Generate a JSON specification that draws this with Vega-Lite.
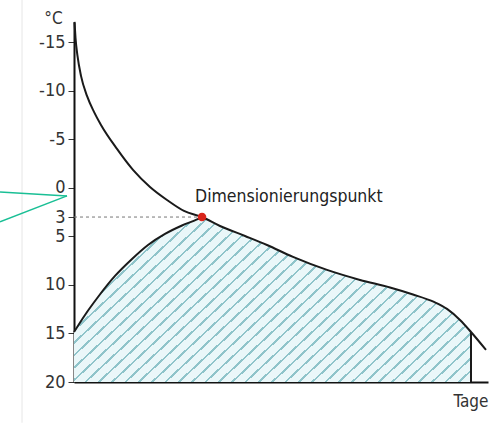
{
  "$schema": "https://vega.github.io/schema/vega-lite/v6.json",
  "width": 414,
  "height": 360,
  "autosize": {"type": "none"},
  "padding": {"left": 74, "top": 22, "right": 16, "bottom": 41},
  "background": "white",
  "config": {
    "view": {"stroke": null},
    "font": "Liberation Sans Narrow, DejaVu Sans Condensed, Roboto, sans-serif"
  },
  "datasets": {
    "area": [
      {"tag": 0, "temp": 14.85}, {"tag": 11, "temp": 13.09}, {"tag": 24, "temp": 11.24}, {"tag": 41, "temp": 9.07},
      {"tag": 58, "temp": 7.32}, {"tag": 74, "temp": 5.88}, {"tag": 91, "temp": 4.74}, {"tag": 108, "temp": 3.87},
      {"tag": 123, "temp": 3.25}, {"tag": 128, "temp": 3.0},
      {"tag": 146, "temp": 3.92}, {"tag": 171, "temp": 4.95}, {"tag": 193, "temp": 5.88}, {"tag": 219, "temp": 7.11},
      {"tag": 253, "temp": 8.45}, {"tag": 286, "temp": 9.48}, {"tag": 316, "temp": 10.26}, {"tag": 339, "temp": 10.98},
      {"tag": 360, "temp": 11.75}, {"tag": 373, "temp": 12.47}, {"tag": 386, "temp": 13.61}, {"tag": 397, "temp": 14.85}
    ],
    "rising": [
      {"tag": 0, "temp": 14.85}, {"tag": 11, "temp": 13.09}, {"tag": 24, "temp": 11.24}, {"tag": 41, "temp": 9.07},
      {"tag": 58, "temp": 7.32}, {"tag": 74, "temp": 5.88}, {"tag": 91, "temp": 4.74}, {"tag": 108, "temp": 3.87},
      {"tag": 123, "temp": 3.25}, {"tag": 128, "temp": 3.0}
    ],
    "falling": [
      {"tag": 0.5, "temp": -17.11}, {"tag": 1.5, "temp": -15.46}, {"tag": 3.5, "temp": -13.61}, {"tag": 7, "temp": -11.55},
      {"tag": 13, "temp": -9.48}, {"tag": 20, "temp": -7.84}, {"tag": 27, "temp": -6.49}, {"tag": 43, "temp": -4.02},
      {"tag": 59, "temp": -1.86}, {"tag": 76, "temp": -0.1}, {"tag": 93, "temp": 1.24}, {"tag": 110, "temp": 2.37},
      {"tag": 128, "temp": 3.0}, {"tag": 146, "temp": 3.92}, {"tag": 171, "temp": 4.95}, {"tag": 193, "temp": 5.88},
      {"tag": 219, "temp": 7.11}, {"tag": 253, "temp": 8.45}, {"tag": 286, "temp": 9.48}, {"tag": 316, "temp": 10.26},
      {"tag": 339, "temp": 10.98}, {"tag": 360, "temp": 11.75}, {"tag": 373, "temp": 12.47}, {"tag": 386, "temp": 13.61},
      {"tag": 397, "temp": 14.85}, {"tag": 412, "temp": 16.7}
    ]
  },
  "layer": [
    {
      "data": {"values": [{"tag": -52, "temp": -19.4, "tag2": -52, "temp2": 24.2}]},
      "mark": {"type": "rule", "color": "#e6e6e6", "strokeWidth": 1},
      "encoding": {
        "x": {"field": "tag", "type": "quantitative", "scale": {"domain": [0, 414], "nice": false, "zero": false},
              "axis": {"title": "Tage", "labels": false, "ticks": false, "grid": false, "domainColor": "#111", "domainWidth": 2,
                       "titleAnchor": "end", "titleAlign": "right", "titleX": 414, "titleY": 24, "titleBaseline": "alphabetic",
                       "titleFontSize": 17, "titleFontWeight": "normal", "titleColor": "#333"}},
        "y": {"field": "temp", "type": "quantitative", "scale": {"domain": [-17.1, 20], "reverse": true, "nice": false, "zero": false},
              "axis": {"title": "°C", "values": [-15, -10, -5, 0, 3, 5, 10, 15, 20], "grid": false, "domainColor": "#111", "domainWidth": 2,
                       "labelExpr": "replace(datum.label, '−', '-')",
                       "tickColor": "#333", "tickSize": 6, "tickWidth": 1, "labelFontSize": 18, "labelColor": "#333", "labelPadding": 3,
                       "titleAngle": 0, "titleX": -21, "titleY": 1, "titleAlign": "center", "titleBaseline": "alphabetic",
                       "titleFontSize": 17, "titleFontWeight": "normal", "titleColor": "#333"}},
        "x2": {"field": "tag2"},
        "y2": {"field": "temp2"}
      }
    },
    {
      "data": {"name": "area"},
      "mark": {"type": "area", "interpolate": "monotone",
        "fill": {"gradient": "linear", "x1": 0, "y1": 0, "x2": 1.402, "y2": 0.624, "stops": [
{"offset":0,"color":"#8fc4ca"},{"offset":0.004,"color":"#8fc4ca"},{"offset":0.004,"color":"#eaf7f9"},{"offset":0.02,"color":"#eaf7f9"},
{"offset":0.02,"color":"#8fc4ca"},{"offset":0.024,"color":"#8fc4ca"},{"offset":0.024,"color":"#eaf7f9"},{"offset":0.04,"color":"#eaf7f9"},
{"offset":0.04,"color":"#8fc4ca"},{"offset":0.044,"color":"#8fc4ca"},{"offset":0.044,"color":"#eaf7f9"},{"offset":0.06,"color":"#eaf7f9"},
{"offset":0.06,"color":"#8fc4ca"},{"offset":0.064,"color":"#8fc4ca"},{"offset":0.064,"color":"#eaf7f9"},{"offset":0.08,"color":"#eaf7f9"},
{"offset":0.08,"color":"#8fc4ca"},{"offset":0.084,"color":"#8fc4ca"},{"offset":0.084,"color":"#eaf7f9"},{"offset":0.1,"color":"#eaf7f9"},
{"offset":0.1,"color":"#8fc4ca"},{"offset":0.104,"color":"#8fc4ca"},{"offset":0.104,"color":"#eaf7f9"},{"offset":0.12,"color":"#eaf7f9"},
{"offset":0.12,"color":"#8fc4ca"},{"offset":0.124,"color":"#8fc4ca"},{"offset":0.124,"color":"#eaf7f9"},{"offset":0.14,"color":"#eaf7f9"},
{"offset":0.14,"color":"#8fc4ca"},{"offset":0.144,"color":"#8fc4ca"},{"offset":0.144,"color":"#eaf7f9"},{"offset":0.16,"color":"#eaf7f9"},
{"offset":0.16,"color":"#8fc4ca"},{"offset":0.164,"color":"#8fc4ca"},{"offset":0.164,"color":"#eaf7f9"},{"offset":0.18,"color":"#eaf7f9"},
{"offset":0.18,"color":"#8fc4ca"},{"offset":0.184,"color":"#8fc4ca"},{"offset":0.184,"color":"#eaf7f9"},{"offset":0.2,"color":"#eaf7f9"},
{"offset":0.2,"color":"#8fc4ca"},{"offset":0.204,"color":"#8fc4ca"},{"offset":0.204,"color":"#eaf7f9"},{"offset":0.22,"color":"#eaf7f9"},
{"offset":0.22,"color":"#8fc4ca"},{"offset":0.224,"color":"#8fc4ca"},{"offset":0.224,"color":"#eaf7f9"},{"offset":0.24,"color":"#eaf7f9"},
{"offset":0.24,"color":"#8fc4ca"},{"offset":0.244,"color":"#8fc4ca"},{"offset":0.244,"color":"#eaf7f9"},{"offset":0.26,"color":"#eaf7f9"},
{"offset":0.26,"color":"#8fc4ca"},{"offset":0.264,"color":"#8fc4ca"},{"offset":0.264,"color":"#eaf7f9"},{"offset":0.28,"color":"#eaf7f9"},
{"offset":0.28,"color":"#8fc4ca"},{"offset":0.284,"color":"#8fc4ca"},{"offset":0.284,"color":"#eaf7f9"},{"offset":0.3,"color":"#eaf7f9"},
{"offset":0.3,"color":"#8fc4ca"},{"offset":0.304,"color":"#8fc4ca"},{"offset":0.304,"color":"#eaf7f9"},{"offset":0.32,"color":"#eaf7f9"},
{"offset":0.32,"color":"#8fc4ca"},{"offset":0.324,"color":"#8fc4ca"},{"offset":0.324,"color":"#eaf7f9"},{"offset":0.34,"color":"#eaf7f9"},
{"offset":0.34,"color":"#8fc4ca"},{"offset":0.344,"color":"#8fc4ca"},{"offset":0.344,"color":"#eaf7f9"},{"offset":0.36,"color":"#eaf7f9"},
{"offset":0.36,"color":"#8fc4ca"},{"offset":0.364,"color":"#8fc4ca"},{"offset":0.364,"color":"#eaf7f9"},{"offset":0.38,"color":"#eaf7f9"},
{"offset":0.38,"color":"#8fc4ca"},{"offset":0.384,"color":"#8fc4ca"},{"offset":0.384,"color":"#eaf7f9"},{"offset":0.4,"color":"#eaf7f9"},
{"offset":0.4,"color":"#8fc4ca"},{"offset":0.404,"color":"#8fc4ca"},{"offset":0.404,"color":"#eaf7f9"},{"offset":0.42,"color":"#eaf7f9"},
{"offset":0.42,"color":"#8fc4ca"},{"offset":0.424,"color":"#8fc4ca"},{"offset":0.424,"color":"#eaf7f9"},{"offset":0.44,"color":"#eaf7f9"},
{"offset":0.44,"color":"#8fc4ca"},{"offset":0.444,"color":"#8fc4ca"},{"offset":0.444,"color":"#eaf7f9"},{"offset":0.46,"color":"#eaf7f9"},
{"offset":0.46,"color":"#8fc4ca"},{"offset":0.464,"color":"#8fc4ca"},{"offset":0.464,"color":"#eaf7f9"},{"offset":0.48,"color":"#eaf7f9"},
{"offset":0.48,"color":"#8fc4ca"},{"offset":0.484,"color":"#8fc4ca"},{"offset":0.484,"color":"#eaf7f9"},{"offset":0.5,"color":"#eaf7f9"},
{"offset":0.5,"color":"#8fc4ca"},{"offset":0.504,"color":"#8fc4ca"},{"offset":0.504,"color":"#eaf7f9"},{"offset":0.52,"color":"#eaf7f9"},
{"offset":0.52,"color":"#8fc4ca"},{"offset":0.524,"color":"#8fc4ca"},{"offset":0.524,"color":"#eaf7f9"},{"offset":0.54,"color":"#eaf7f9"},
{"offset":0.54,"color":"#8fc4ca"},{"offset":0.544,"color":"#8fc4ca"},{"offset":0.544,"color":"#eaf7f9"},{"offset":0.56,"color":"#eaf7f9"},
{"offset":0.56,"color":"#8fc4ca"},{"offset":0.564,"color":"#8fc4ca"},{"offset":0.564,"color":"#eaf7f9"},{"offset":0.58,"color":"#eaf7f9"},
{"offset":0.58,"color":"#8fc4ca"},{"offset":0.584,"color":"#8fc4ca"},{"offset":0.584,"color":"#eaf7f9"},{"offset":0.6,"color":"#eaf7f9"},
{"offset":0.6,"color":"#8fc4ca"},{"offset":0.604,"color":"#8fc4ca"},{"offset":0.604,"color":"#eaf7f9"},{"offset":0.62,"color":"#eaf7f9"},
{"offset":0.62,"color":"#8fc4ca"},{"offset":0.624,"color":"#8fc4ca"},{"offset":0.624,"color":"#eaf7f9"},{"offset":0.64,"color":"#eaf7f9"},
{"offset":0.64,"color":"#8fc4ca"},{"offset":0.644,"color":"#8fc4ca"},{"offset":0.644,"color":"#eaf7f9"},{"offset":0.66,"color":"#eaf7f9"},
{"offset":0.66,"color":"#8fc4ca"},{"offset":0.664,"color":"#8fc4ca"},{"offset":0.664,"color":"#eaf7f9"},{"offset":0.68,"color":"#eaf7f9"},
{"offset":0.68,"color":"#8fc4ca"},{"offset":0.684,"color":"#8fc4ca"},{"offset":0.684,"color":"#eaf7f9"},{"offset":0.7,"color":"#eaf7f9"},
{"offset":0.7,"color":"#8fc4ca"},{"offset":0.704,"color":"#8fc4ca"},{"offset":0.704,"color":"#eaf7f9"},{"offset":0.72,"color":"#eaf7f9"},
{"offset":0.72,"color":"#8fc4ca"},{"offset":0.724,"color":"#8fc4ca"},{"offset":0.724,"color":"#eaf7f9"},{"offset":0.74,"color":"#eaf7f9"},
{"offset":0.74,"color":"#8fc4ca"},{"offset":0.744,"color":"#8fc4ca"},{"offset":0.744,"color":"#eaf7f9"},{"offset":0.76,"color":"#eaf7f9"},
{"offset":0.76,"color":"#8fc4ca"},{"offset":0.764,"color":"#8fc4ca"},{"offset":0.764,"color":"#eaf7f9"},{"offset":0.78,"color":"#eaf7f9"},
{"offset":0.78,"color":"#8fc4ca"},{"offset":0.784,"color":"#8fc4ca"},{"offset":0.784,"color":"#eaf7f9"},{"offset":0.8,"color":"#eaf7f9"},
{"offset":0.8,"color":"#8fc4ca"},{"offset":0.804,"color":"#8fc4ca"},{"offset":0.804,"color":"#eaf7f9"},{"offset":0.82,"color":"#eaf7f9"},
{"offset":0.82,"color":"#8fc4ca"},{"offset":0.824,"color":"#8fc4ca"},{"offset":0.824,"color":"#eaf7f9"},{"offset":0.84,"color":"#eaf7f9"},
{"offset":0.84,"color":"#8fc4ca"},{"offset":0.844,"color":"#8fc4ca"},{"offset":0.844,"color":"#eaf7f9"},{"offset":0.86,"color":"#eaf7f9"},
{"offset":0.86,"color":"#8fc4ca"},{"offset":0.864,"color":"#8fc4ca"},{"offset":0.864,"color":"#eaf7f9"},{"offset":0.88,"color":"#eaf7f9"},
{"offset":0.88,"color":"#8fc4ca"},{"offset":0.884,"color":"#8fc4ca"},{"offset":0.884,"color":"#eaf7f9"},{"offset":0.9,"color":"#eaf7f9"},
{"offset":0.9,"color":"#8fc4ca"},{"offset":0.904,"color":"#8fc4ca"},{"offset":0.904,"color":"#eaf7f9"},{"offset":0.92,"color":"#eaf7f9"},
{"offset":0.92,"color":"#8fc4ca"},{"offset":0.924,"color":"#8fc4ca"},{"offset":0.924,"color":"#eaf7f9"},{"offset":0.94,"color":"#eaf7f9"},
{"offset":0.94,"color":"#8fc4ca"},{"offset":0.944,"color":"#8fc4ca"},{"offset":0.944,"color":"#eaf7f9"},{"offset":0.96,"color":"#eaf7f9"},
{"offset":0.96,"color":"#8fc4ca"},{"offset":0.964,"color":"#8fc4ca"},{"offset":0.964,"color":"#eaf7f9"},{"offset":0.98,"color":"#eaf7f9"},
{"offset":0.98,"color":"#8fc4ca"},{"offset":0.984,"color":"#8fc4ca"},{"offset":0.984,"color":"#eaf7f9"},{"offset":1,"color":"#eaf7f9"}
        ]}},
      "encoding": {
        "x": {"field": "tag", "type": "quantitative"},
        "y": {"field": "temp", "type": "quantitative"},
        "y2": {"datum": 20}
      }
    },
    {
      "data": {"name": "rising"},
      "mark": {"type": "line", "interpolate": "monotone", "color": "#1a1a1a", "strokeWidth": 2},
      "encoding": {
        "x": {"field": "tag", "type": "quantitative"},
        "y": {"field": "temp", "type": "quantitative"}
      }
    },
    {
      "data": {"name": "falling"},
      "mark": {"type": "line", "interpolate": "monotone", "color": "#1a1a1a", "strokeWidth": 2},
      "encoding": {
        "x": {"field": "tag", "type": "quantitative"},
        "y": {"field": "temp", "type": "quantitative"}
      }
    },
    {
      "data": {"values": [{"tag": 397, "temp": 14.85, "temp2": 20}]},
      "mark": {"type": "rule", "color": "#1a1a1a", "strokeWidth": 2},
      "encoding": {
        "x": {"field": "tag", "type": "quantitative"},
        "y": {"field": "temp", "type": "quantitative"},
        "y2": {"field": "temp2"}
      }
    },
    {
      "data": {"values": [{"tag": 0, "tag2": 128, "temp": 3}]},
      "mark": {"type": "rule", "color": "#777", "strokeWidth": 1, "strokeDash": [3, 3]},
      "encoding": {
        "x": {"field": "tag", "type": "quantitative"},
        "x2": {"field": "tag2"},
        "y": {"field": "temp", "type": "quantitative"}
      }
    },
    {
      "data": {"values": [
        {"tag": -74, "temp": 0.41, "tag2": -7, "temp2": 0.82},
        {"tag": -74, "temp": 3.5, "tag2": -7, "temp2": 0.82}
      ]},
      "mark": {"type": "rule", "color": "#19bf95", "strokeWidth": 1.5},
      "encoding": {
        "x": {"field": "tag", "type": "quantitative"},
        "y": {"field": "temp", "type": "quantitative"},
        "x2": {"field": "tag2"},
        "y2": {"field": "temp2"}
      }
    },
    {
      "data": {"values": [{"tag": 128, "temp": 3}]},
      "mark": {"type": "circle", "color": "#d8251c", "size": 75, "opacity": 1},
      "encoding": {
        "x": {"field": "tag", "type": "quantitative"},
        "y": {"field": "temp", "type": "quantitative"}
      }
    },
    {
      "data": {"values": [{"tag": 121, "temp": 1.45, "label": "Dimensionierungspunkt"}]},
      "mark": {"type": "text", "align": "left", "baseline": "alphabetic", "fontSize": 17.5, "color": "#222"},
      "encoding": {
        "x": {"field": "tag", "type": "quantitative"},
        "y": {"field": "temp", "type": "quantitative"},
        "text": {"field": "label"}
      }
    }
  ]
}
